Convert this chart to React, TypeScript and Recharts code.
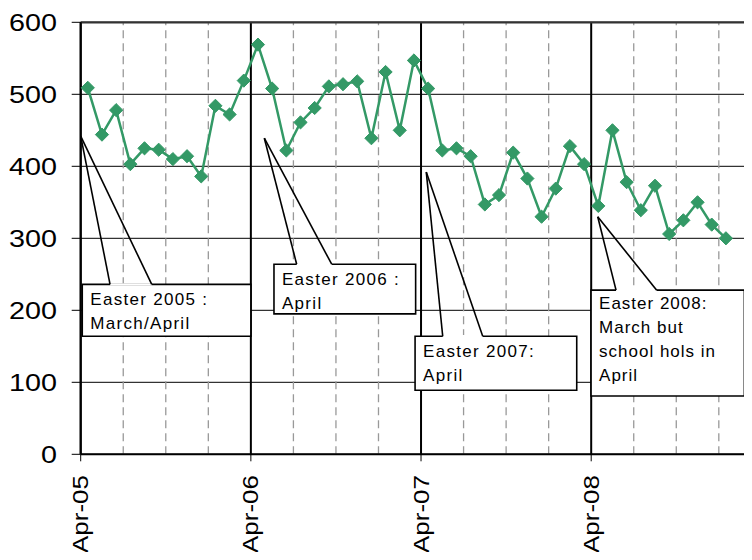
import React from 'react';
import { LineChart, Line, XAxis, YAxis, CartesianGrid, ReferenceLine, ReferenceArea } from 'recharts';

// x axis is in months from Apr-05; each value sits mid-month
const yearTicks = ['Apr-05', 'Apr-06', 'Apr-07', 'Apr-08'];
const fy2005 = [509, 444, 478, 403, 425, 423, 410, 414, 386, 484, 472, 519];
const fy2006 = [569, 508, 422, 461, 481, 511, 514, 518, 439, 531, 450, 547];
const fy2007 = [508, 422, 425, 414, 347, 360, 419, 383, 330, 369, 428, 403];
const fy2008 = [345, 450, 378, 339, 373, 306, 325, 350, 319, 300];
const yTicks = [0, 100, 200, 300, 400, 500, 600];

const data = [...fy2005, ...fy2006, ...fy2007, ...fy2008].map((v, i) => ({ month: i + 0.5, value: v }));

const MONTH_MAX = 47.34;
const yearLines = yearTicks.map((_, i) => i * 12);
const quarterLines: number[] = [];
for (let m = 3; m < MONTH_MAX; m += 3) {
  if (m % 12 !== 0) quarterLines.push(m);
}

// callouts in data units: tip point, box [x1, x2, y1, y2], wedge base x's on the box top
const callouts = [
  { lines: ['Easter 2005 :', 'March/April'], tip: [0, 442], box: [0.11, 12.0, 164, 236], base: [2.07, 5.01], first: 21, ls: 1.3 },
  { lines: ['Easter 2006 :', 'April'], tip: [12.95, 439], box: [13.63, 23.62, 195, 264], base: [15.23, 17.7], first: 21, ls: 1.3 },
  { lines: ['Easter 2007:', 'April'], tip: [24.37, 392], box: [23.58, 34.98, 89, 164], base: [25.53, 28.35], first: 21, ls: 1.3 },
  {
    lines: ['Easter 2008:', 'March but', 'school hols in', 'April'],
    tip: [36.46, 330],
    box: [35.99, 46.8, 81, 228],
    base: [37.75, 40.62],
    first: 18.5,
    ls: 1.0,
  },
];

const FONT = '"Liberation Sans", Arial, sans-serif';
const GREEN = '#339966';

const Diamond = (props: any) => {
  const { cx, cy } = props;
  if (cx == null || cy == null) return <g />;
  const r = 6.6;
  return (
    <polygon
      points={`${cx},${cy - r} ${cx + r},${cy} ${cx},${cy + r} ${cx - r},${cy}`}
      fill={GREEN}
      stroke={GREEN}
      strokeWidth={1}
    />
  );
};

const YTick = (props: any) => {
  const { x, y, payload } = props;
  const s = String(payload.value);
  return (
    <text
      x={x}
      y={y}
      dy="0.36em"
      textAnchor="end"
      fontSize={24}
      fontFamily={FONT}
      fill="#000"
      textLength={s.length * 16}
      lengthAdjust="spacingAndGlyphs"
    >
      {s}
    </text>
  );
};

const XTick = (props: any) => {
  const { x, y, payload } = props;
  const label = yearTicks[Math.round(payload.value / 12)] ?? '';
  return (
    <text
      x={x}
      y={y}
      dy={7.6}
      transform={`rotate(-90 ${x} ${y})`}
      textAnchor="end"
      fontSize={22}
      fontFamily={FONT}
      fill="#000"
      textLength={78}
      lengthAdjust="spacingAndGlyphs"
    >
      {label}
    </text>
  );
};

const CalloutText = ({ viewBox, lines, first, ls }: any) => {
  if (!viewBox) return null;
  const { x, y } = viewBox;
  return (
    <text x={x + 8} y={y + first} fontSize={17} fontFamily={FONT} fill="#000" letterSpacing={ls}>
      {lines.map((t: string, i: number) => (
        <tspan key={i} x={x + 8} dy={i === 0 ? 0 : 24}>
          {t}
        </tspan>
      ))}
    </text>
  );
};

export default function App() {
  return (
    <div style={{ width: 744, height: 544, fontFamily: FONT }}>
      <LineChart width={744} height={544} data={data} margin={{ top: 14.3, right: 0, bottom: 0, left: 0 }}>
        <CartesianGrid stroke="#000" strokeWidth={1} vertical={false} />
        <XAxis
          dataKey="month"
          type="number"
          domain={[0, MONTH_MAX]}
          ticks={yearLines}
          interval={0}
          height={97.7}
          tickSize={7}
          tickMargin={13.7}
          tick={<XTick />}
          axisLine={{ stroke: '#000', strokeWidth: 2 }}
          tickLine={{ stroke: '#000', strokeWidth: 1 }}
        />
        <YAxis
          domain={[0, 600]}
          ticks={yTicks}
          interval={0}
          width={72.7}
          tickSize={9}
          tickMargin={14.7}
          tick={<YTick />}
          axisLine={{ stroke: '#000', strokeWidth: 2 }}
          tickLine={{ stroke: '#000', strokeWidth: 1 }}
        />
        {quarterLines.map((m) => (
          <ReferenceLine key={'q' + m} x={m} stroke="#999" strokeWidth={1.3} strokeDasharray="8 5" zIndex={-50} />
        ))}
        {yearLines.map((m) => (
          <ReferenceLine key={'y' + m} x={m} stroke="#000" strokeWidth={2} zIndex={-40} />
        ))}
        <ReferenceLine y={600} stroke="#333" strokeWidth={2.2} zIndex={-40} />
        {callouts.map((c, i) => (
          <ReferenceArea
            key={'b' + i}
            x1={c.box[0]}
            x2={c.box[1]}
            y1={c.box[2]}
            y2={c.box[3]}
            fill="#fff"
            fillOpacity={1}
            stroke="#000"
            strokeWidth={1.6}
            zIndex={200}
            label={(p: any) => <CalloutText viewBox={p.viewBox} lines={c.lines} first={c.first} ls={c.ls} />}
          />
        ))}
        {/* open the box top where the wedge joins it */}
        {callouts.map((c, i) => (
          <ReferenceLine
            key={'g' + i}
            segment={[
              { x: c.base[0], y: c.box[3] },
              { x: c.base[1], y: c.box[3] },
            ]}
            stroke="#fff"
            strokeWidth={2.4}
            zIndex={250}
          />
        ))}
        {callouts.map((c, i) =>
          c.base.map((bx, j) => (
            <ReferenceLine
              key={'w' + i + '-' + j}
              segment={[
                { x: c.tip[0], y: c.tip[1] },
                { x: bx, y: c.box[3] },
              ]}
              stroke="#000"
              strokeWidth={1.6}
              zIndex={300}
            />
          ))
        )}
        <Line
          type="linear"
          dataKey="value"
          stroke={GREEN}
          strokeWidth={2.5}
          dot={(p: any) => <Diamond key={p.index} {...p} />}
          activeDot={false}
          isAnimationActive={false}
          zIndex={400}
        />
      </LineChart>
    </div>
  );
}
